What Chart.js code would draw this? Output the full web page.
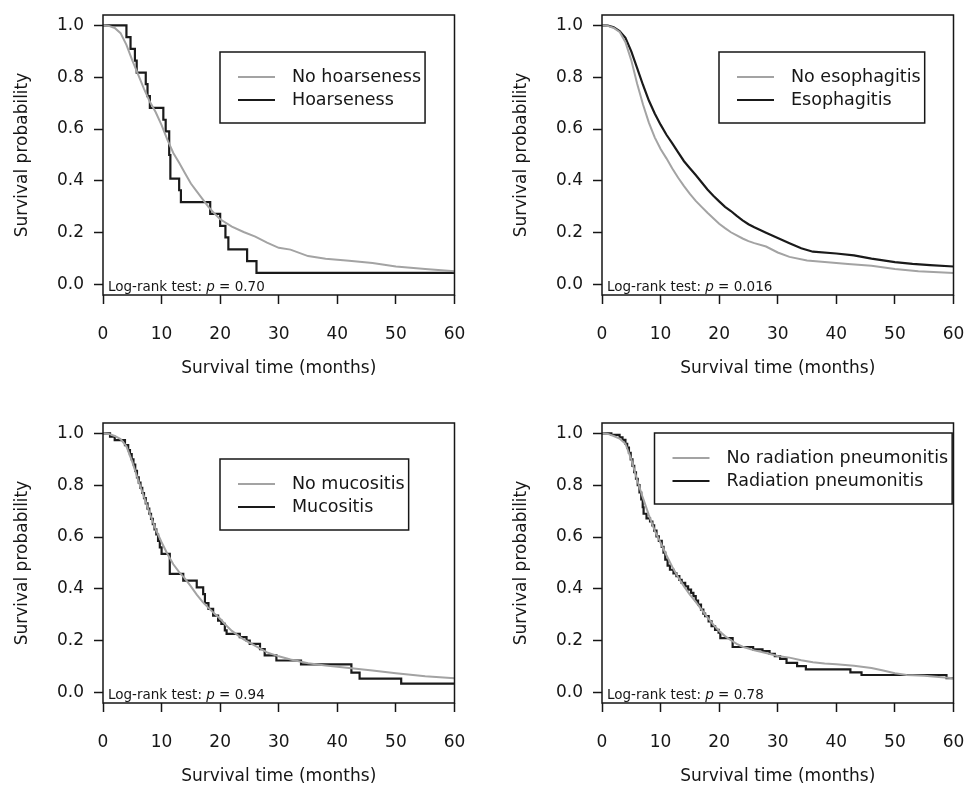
<!DOCTYPE html>
<html>
<head>
<meta charset="utf-8">
<script src="https://cdn.jsdelivr.net/npm/chart.js@4.4.1/dist/chart.umd.min.js"></script>
<style>
  html, body { margin: 0; padding: 0; background: #fff; overflow: hidden; }
  body { width: 966px; height: 787px; position: relative; }
  .panel { position: absolute; width: 467px; height: 379px; }
</style>
</head>
<body>
<div class="panel" style="left:0;top:0"><canvas id="hoarseChart" width="467" height="379"></canvas></div>
<div class="panel" style="left:499px;top:0"><canvas id="esophChart" width="467" height="379"></canvas></div>
<div class="panel" style="left:0;top:408px"><canvas id="mucoChart" width="467" height="379"></canvas></div>
<div class="panel" style="left:499px;top:408px"><canvas id="pneumoChart" width="467" height="379"></canvas></div>
<script>
const xTicks = [0, 10, 20, 30, 40, 50, 60];
const yTicks = [0, 0.2, 0.4, 0.6, 0.8, 1.0];

// hoarseness
const noHoarseTime = [0, 1, 2, 3, 4, 5, 6, 7, 8, 9, 10, 11, 12, 13, 14, 15, 16, 17, 18, 19, 20, 22, 24, 26, 28, 30, 32, 35, 38, 42, 46, 50, 55, 60];
const noHoarseSurv = [1.0, 0.998, 0.99, 0.97, 0.925, 0.865, 0.81, 0.755, 0.705, 0.665, 0.615, 0.558, 0.508, 0.47, 0.43, 0.39, 0.36, 0.33, 0.30, 0.275, 0.252, 0.224, 0.203, 0.185, 0.162, 0.142, 0.135, 0.11, 0.10, 0.092, 0.083, 0.07, 0.06, 0.052];
const hoarseTime = [0, 4.0, 4.7, 5.45, 5.75, 7.3, 7.6, 8.0, 10.3, 10.7, 11.3, 11.5, 13.0, 13.3, 18.3, 20.0, 20.9, 21.4, 24.6, 26.2, 60];
const hoarseSurv = [1, 0.955, 0.909, 0.864, 0.818, 0.773, 0.727, 0.682, 0.636, 0.591, 0.5, 0.409, 0.364, 0.318, 0.273, 0.227, 0.182, 0.136, 0.091, 0.045, 0.045];

// esophagitis
const noEsophTime = [0, 1, 2, 3, 4, 5, 6, 7, 8, 9, 10, 11, 12, 13, 14, 15, 16, 17, 18, 19, 20, 21, 22, 23, 24, 25, 26, 28, 30, 32, 35, 38, 42, 46, 50, 54, 60];
const noEsophSurv = [1, 0.998, 0.99, 0.975, 0.935, 0.865, 0.775, 0.695, 0.625, 0.568, 0.523, 0.487, 0.448, 0.412, 0.38, 0.35, 0.323, 0.3, 0.277, 0.256, 0.235, 0.218, 0.202, 0.19, 0.178, 0.168, 0.16, 0.147, 0.124, 0.107, 0.093, 0.087, 0.08, 0.073, 0.06, 0.052, 0.045];
const esophTime = [0, 1, 2, 3, 4, 5, 6, 7, 8, 9, 10, 11, 12, 13, 14, 15, 16, 17, 18, 19, 20, 21, 22, 23, 24, 25, 26, 28, 30, 32, 34, 36, 40, 43, 46, 50, 53, 56, 60];
const esophSurv = [1, 0.999, 0.993, 0.978, 0.952, 0.9, 0.835, 0.77, 0.71, 0.66, 0.617, 0.578, 0.545, 0.51, 0.476, 0.449, 0.423, 0.395, 0.367, 0.343, 0.321, 0.3, 0.284, 0.265, 0.248, 0.233, 0.221, 0.2, 0.18, 0.16, 0.14, 0.127, 0.12, 0.113, 0.1, 0.087, 0.08, 0.075, 0.07];

// mucositis
const noMucoTime = [0, 1, 2, 3, 4, 5, 6, 7, 8, 9, 10, 11, 12, 13, 14, 15, 16, 17, 18, 19, 20, 21, 22, 24, 26, 28, 30, 32, 35, 38, 42, 46, 50, 55, 60];
const noMucoSurv = [1.0, 0.998, 0.99, 0.978, 0.95, 0.89, 0.82, 0.755, 0.69, 0.63, 0.58, 0.535, 0.495, 0.465, 0.44, 0.41, 0.378, 0.35, 0.327, 0.305, 0.285, 0.26, 0.238, 0.205, 0.18, 0.155, 0.14, 0.128, 0.113, 0.105, 0.095, 0.085, 0.075, 0.063, 0.055];
const mucoTime = [0, 1.2, 2.0, 3.75, 4.3, 4.6, 4.9, 5.2, 5.5, 5.8, 6.1, 6.4, 6.7, 7.0, 7.3, 7.6, 7.9, 8.2, 8.5, 8.8, 9.1, 9.4, 9.7, 10.0, 11.4, 13.7, 16.0, 17.1, 17.4, 18.0, 18.8, 19.65, 20.2, 20.8, 21.1, 23.35, 24.5, 25.05, 26.8, 27.6, 29.6, 33.8, 42.4, 43.8, 50.9, 60];
const mucoSurv = [1, 0.987, 0.974, 0.955, 0.935, 0.92, 0.9, 0.88, 0.855, 0.83, 0.81, 0.79, 0.77, 0.75, 0.73, 0.71, 0.69, 0.67, 0.65, 0.63, 0.61, 0.585, 0.56, 0.535, 0.458, 0.432, 0.406, 0.38, 0.345, 0.323, 0.297, 0.278, 0.265, 0.24, 0.227, 0.214, 0.201, 0.188, 0.168, 0.144, 0.124, 0.109, 0.077, 0.054, 0.035, 0.035];

// radiation pneumonitis
const noPneumoTime = [0, 1, 2, 3, 4, 5, 6, 7, 8, 9, 10, 11, 12, 13, 14, 15, 16, 17, 18, 19, 20, 21, 22, 23, 24, 25, 26, 28, 30, 32, 34, 36, 38, 40, 43, 46, 48, 50, 52, 55, 60];
const noPneumoSurv = [1, 0.998, 0.99, 0.98, 0.96, 0.9, 0.82, 0.75, 0.685, 0.625, 0.578, 0.53, 0.485, 0.445, 0.41, 0.378, 0.35, 0.32, 0.29, 0.262, 0.238, 0.218, 0.202, 0.188, 0.177, 0.17, 0.163, 0.153, 0.141, 0.135, 0.125, 0.117, 0.112, 0.109, 0.104, 0.095, 0.085, 0.075, 0.068, 0.065, 0.055];
const pneumoTime = [0, 1.6, 3.0, 3.5, 4.0, 4.3, 4.6, 4.9, 5.2, 5.5, 5.8, 6.1, 6.4, 6.7, 6.95, 7.1, 7.6, 8.2, 8.6, 8.9, 9.3, 9.7, 10.2, 10.5, 10.8, 11.2, 11.6, 12.2, 12.7, 13.2, 13.6, 14.2, 14.7, 15.2, 15.6, 16.0, 16.4, 16.9, 17.3, 17.6, 18.2, 18.7, 19.3, 19.9, 20.2, 22.3, 25.8, 27.4, 28.6, 29.5, 30.4, 31.5, 33.3, 34.8, 42.4, 44.3, 58.8, 60];
const pneumoSurv = [1, 0.994, 0.985, 0.975, 0.96, 0.945, 0.925, 0.9, 0.875, 0.85, 0.825, 0.8, 0.772, 0.745, 0.715, 0.69, 0.672, 0.66, 0.645, 0.625, 0.603, 0.585, 0.562, 0.54, 0.513, 0.49, 0.474, 0.46, 0.449, 0.435, 0.423, 0.41, 0.397, 0.385, 0.372, 0.355, 0.34, 0.32, 0.305, 0.295, 0.275, 0.256, 0.242, 0.231, 0.21, 0.176, 0.167, 0.16, 0.15, 0.141, 0.13, 0.115, 0.102, 0.09, 0.078, 0.068, 0.056, 0.056];

const ink = '#161616';
const greyLine = '#a3a3a3';
const blackLine = '#1a1a1a';
Chart.defaults.font.family = '"DejaVu Sans", sans-serif';

function toPoints(times, surv) {
    return times.map((t, i) => ({x: t, y: surv[i]}));
}

const kmDecor = {
    id: 'kmDecor',
    afterDatasetsDraw(chart, args, opts) {
        const ctx = chart.ctx;
        const a = chart.chartArea;
        ctx.save();
        ctx.strokeStyle = ink;
        ctx.lineWidth = 1.5;
        ctx.strokeRect(a.left, a.top, a.right - a.left, a.bottom - a.top);

        // legend box
        ctx.font = '17.5px "DejaVu Sans"';
        const sets = chart.data.datasets;
        const textW = Math.max(...sets.map(d => ctx.measureText(d.label).width));
        const lx = a.left + opts.legendLeft;
        const ly = a.top + opts.legendTop;
        ctx.strokeRect(lx, ly, 72 + textW + 4, 71);
        sets.forEach((d, i) => {
            const y = ly + 25 + i * 23;
            ctx.strokeStyle = d.borderColor;
            ctx.lineWidth = d.borderWidth;
            ctx.beginPath();
            ctx.moveTo(lx + 18, y);
            ctx.lineTo(lx + 55, y);
            ctx.stroke();
            ctx.fillStyle = ink;
            ctx.textAlign = 'left';
            ctx.textBaseline = 'middle';
            ctx.fillText(d.label, lx + 72, y);
        });

        // log-rank note
        let x = a.left + 5;
        const yb = a.bottom - 4.5;
        ctx.textBaseline = 'alphabetic';
        ctx.font = '13.5px "DejaVu Sans"';
        ctx.fillText('Log-rank test: ', x, yb);
        x += ctx.measureText('Log-rank test: ').width;
        ctx.font = 'italic 13.5px "DejaVu Sans"';
        ctx.fillText('p', x, yb);
        x += ctx.measureText('p').width;
        ctx.font = '13.5px "DejaVu Sans"';
        ctx.fillText(' = ' + opts.pValue, x, yb);
        ctx.restore();
    }
};

function makeChart(id, labels, greyData, blackData, blackStepped, legendLeft, legendTop, pValue) {
    return new Chart(document.getElementById(id), {
        type: 'line',
        data: {
            datasets: [
                {
                    label: labels[0],
                    data: greyData,
                    borderColor: greyLine,
                    borderWidth: 2,
                    pointRadius: 0,
                    fill: false,
                    tension: 0
                },
                {
                    label: labels[1],
                    data: blackData,
                    borderColor: blackLine,
                    borderWidth: 2.2,
                    pointRadius: 0,
                    fill: false,
                    stepped: blackStepped,
                    tension: 0
                }
            ]
        },
        options: {
            responsive: false,
            animation: false,
            events: [],
            layout: {padding: {left: 0, top: 15, right: 12.5, bottom: 0}},
            plugins: {
                legend: {display: false},
                tooltip: {enabled: false},
                kmDecor: {legendLeft: legendLeft, legendTop: legendTop, pValue: pValue}
            },
            scales: {
                x: {
                    type: 'linear',
                    min: 0,
                    max: 60,
                    afterBuildTicks: s => { s.ticks = xTicks.map(v => ({value: v})); },
                    afterFit: s => { s.height = 84; s.paddingLeft = 0; s.paddingRight = 0; },
                    ticks: {color: ink, font: {size: 17}, padding: 20, maxRotation: 0, autoSkip: false},
                    grid: {drawOnChartArea: false, drawTicks: true, tickLength: 9, tickColor: ink, tickWidth: 1.5},
                    border: {display: false},
                    title: {display: true, text: 'Survival time (months)', color: ink, font: {size: 17}, padding: {top: 0, bottom: 0}}
                },
                y: {
                    type: 'linear',
                    min: -0.04,
                    max: 1.04,
                    afterBuildTicks: s => { s.ticks = yTicks.map(v => ({value: v})); },
                    afterFit: s => { s.width = 103; s.paddingTop = 0; s.paddingBottom = 0; },
                    ticks: {color: ink, font: {size: 17}, padding: 10, callback: v => v.toFixed(1)},
                    grid: {drawOnChartArea: false, drawTicks: true, tickLength: 9, tickColor: ink, tickWidth: 1.5},
                    border: {display: false},
                    title: {display: true, text: 'Survival probability', color: ink, font: {size: 17}, padding: {top: 12, bottom: 0}}
                }
            }
        },
        plugins: [kmDecor]
    });
}

makeChart('hoarseChart', ['No hoarseness', 'Hoarseness'],
    toPoints(noHoarseTime, noHoarseSurv), toPoints(hoarseTime, hoarseSurv), true, 117, 37, '0.70');
makeChart('esophChart', ['No esophagitis', 'Esophagitis'],
    toPoints(noEsophTime, noEsophSurv), toPoints(esophTime, esophSurv), false, 117, 37, '0.016');
makeChart('mucoChart', ['No mucositis', 'Mucositis'],
    toPoints(noMucoTime, noMucoSurv), toPoints(mucoTime, mucoSurv), true, 117, 36, '0.94');
makeChart('pneumoChart', ['No radiation pneumonitis', 'Radiation pneumonitis'],
    toPoints(noPneumoTime, noPneumoSurv), toPoints(pneumoTime, pneumoSurv), true, 52.5, 10, '0.78');
</script>
</body>
</html>
